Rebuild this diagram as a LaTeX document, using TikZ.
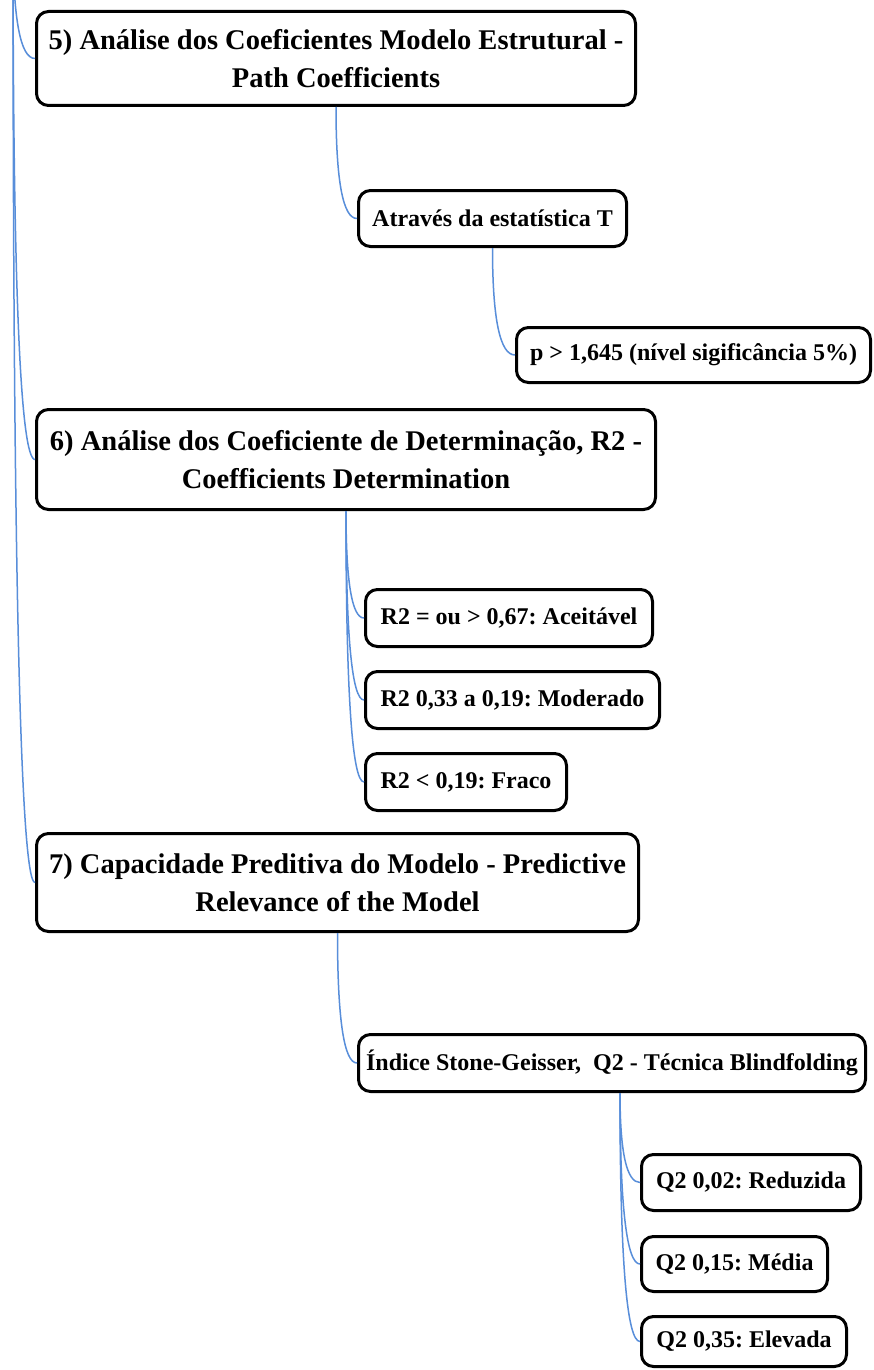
\documentclass[tikz,border=0pt]{standalone}
\usepackage{fontspec}
\setmainfont{Liberation Serif}
\usetikzlibrary{calc}
\frenchspacing
\definecolor{linkblue}{RGB}{88,142,218}
\newcommand{\qcurve}[2]{\draw[link] (#1) .. controls ($(#1)!0.6667!(#1 |- #2)$) and ($(#2)!0.6667!(#1 |- #2)$) .. (#2);}
\tikzset{
  box/.style={draw=black, line width=3pt, rounded corners=12pt, inner sep=0pt,
    anchor=north west, align=center, fill=white, text=black},
  bigbox/.style={box, font=\fontsize{28.5}{38}\selectfont\bfseries\frenchspacing},
  smallbox/.style={box, font=\fontsize{24}{30}\selectfont\bfseries\frenchspacing},
  link/.style={draw=linkblue, line width=1.5pt}
}
\begin{document}
\begin{tikzpicture}[x=1pt,y=-1pt]
\useasboundingbox (0,0) rectangle (874,1370);
\clip (0,0) rectangle (874,1370);
\fill[white] (0,0) rectangle (874,1370);
\coordinate (root) at (13,-60);

% level 1
\node[bigbox, minimum width=599, minimum height=94] (b5) at (35,10)
  {5) Análise dos Coeficientes Modelo Estrutural -\\Path Coefficients};
\node[bigbox, minimum width=619, minimum height=100] (b6) at (35,408)
  {6) Análise dos Coeficiente de Determinação, R2 -\\Coefficients Determination};
\node[bigbox, minimum width=602, minimum height=98] (b7) at (35,832)
  {7) Capacidade Preditiva do Modelo - Predictive\\Relevance of the Model};

% level 2/3
\node[smallbox, minimum width=268, minimum height=56] (t5) at (357,189) {Através da estatística T};
\node[smallbox, minimum width=354, minimum height=55] (p5) at (515,326) {p > 1,645 (nível sigificância 5\%)};

\node[smallbox, minimum width=287, minimum height=57] (r1) at (364,588) {R2 = ou > 0,67: Aceitável};
\node[smallbox, minimum width=294, minimum height=57] (r2) at (364,670) {R2 0,33 a 0,19: Moderado};
\node[smallbox, minimum width=201, minimum height=57] (r3) at (364,752) {R2 < 0,19: Fraco};

\node[smallbox, minimum width=507, minimum height=57] (idx) at (357,1033) {Índice Stone-Geisser,~ Q2 - Técnica Blindfolding};
\node[smallbox, minimum width=219, minimum height=56] (q1) at (640,1153) {Q2 0,02: Reduzida};
\node[smallbox, minimum width=186, minimum height=55] (q2) at (640,1235) {Q2 0,15: Média};
\node[smallbox, minimum width=205, minimum height=50] (q3) at (640,1315) {Q2 0,35: Elevada};

\coordinate (idxs) at ($(idx.south)+(8,0)$);

% connectors
\qcurve{root}{b5.west}
\qcurve{root}{b6.west}
\qcurve{root}{b7.west}
\qcurve{b5.south}{t5.west}
\qcurve{t5.south}{p5.west}
\qcurve{b6.south}{r1.west}
\qcurve{b6.south}{r2.west}
\qcurve{b6.south}{r3.west}
\qcurve{b7.south}{idx.west}
\qcurve{idxs}{q1.west}
\qcurve{idxs}{q2.west}
\qcurve{idxs}{q3.west}
\end{tikzpicture}
\end{document}
